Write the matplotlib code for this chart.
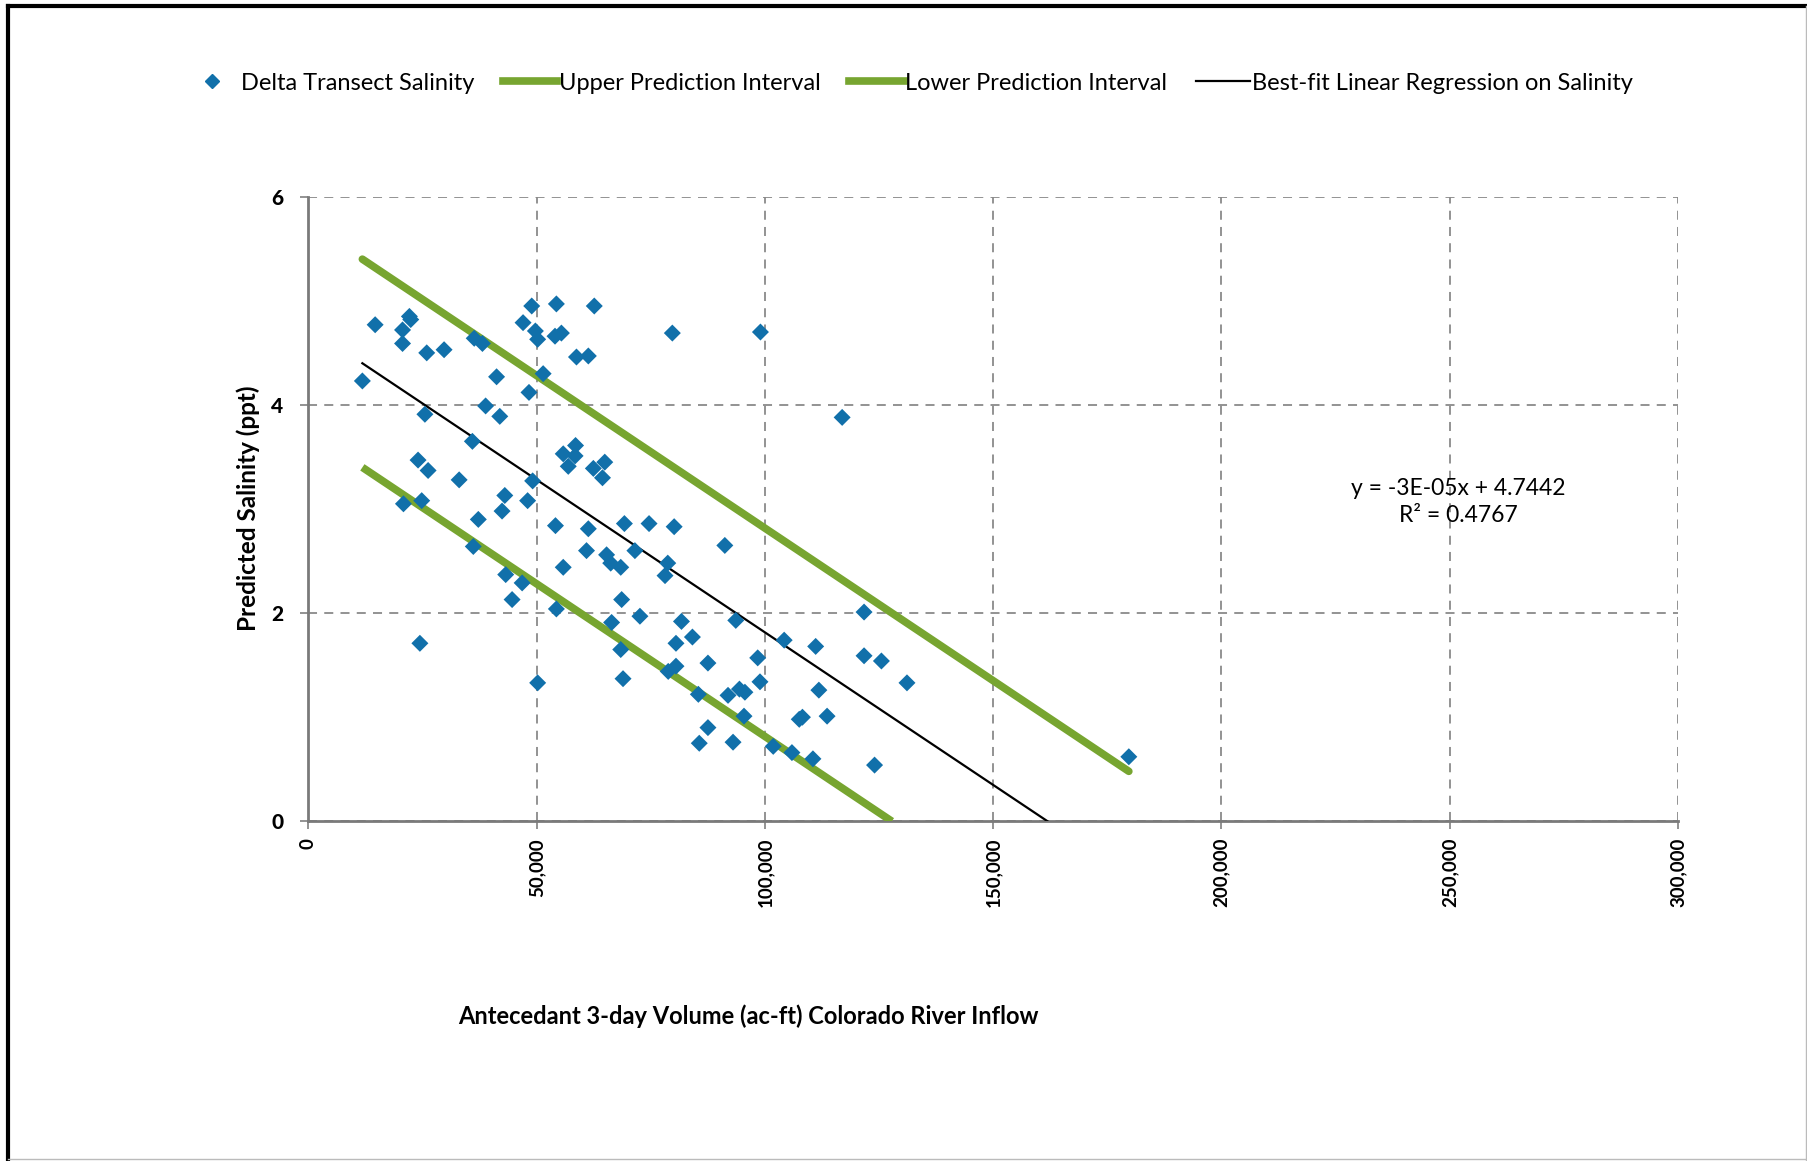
import matplotlib
matplotlib.use("Agg")
import matplotlib.pyplot as plt
from matplotlib.lines import Line2D

# ---------------- data ----------------
inflow_k = [14.6, 22.1, 22.4, 20.6, 20.6, 25.9, 29.7, 11.8, 36.3, 38.1,
            41.2, 38.8, 41.9, 48.3, 51.4, 48.9, 54.3, 62.6, 47.0, 49.7,
            50.2, 54.0, 55.4, 58.7, 61.3, 79.7, 25.5, 35.9, 24.0, 26.2,
            33.0, 49.1, 20.8, 24.8, 43.0, 48.0, 37.2, 42.4, 55.8, 58.5,
            58.4, 56.9, 62.4, 64.9, 64.4, 54.1, 61.3, 69.2, 74.6, 80.1,
            91.2, 36.1, 60.9, 99.0, 116.9, 65.3, 66.2, 68.4, 71.5, 78.7,
            78.1, 43.2, 46.8, 44.6, 55.8, 54.3, 68.6, 72.6, 66.4, 81.7,
            84.1, 80.5, 93.6, 68.4, 24.4, 87.5, 80.5, 78.8, 68.9, 50.2,
            85.4, 91.9, 94.4, 95.6, 87.5, 85.6, 93.0, 104.2, 111.1, 121.7,
            121.7, 125.5, 131.1, 98.4, 98.9, 95.4, 101.8, 105.9, 110.5, 107.5,
            108.2, 111.8, 113.6, 124.0, 179.7]
salinity = [4.77, 4.85, 4.82, 4.72, 4.59, 4.50, 4.53, 4.23, 4.64, 4.59,
            4.27, 3.99, 3.89, 4.12, 4.30, 4.95, 4.97, 4.95, 4.79, 4.71,
            4.63, 4.66, 4.69, 4.46, 4.47, 4.69, 3.91, 3.65, 3.47, 3.37,
            3.28, 3.27, 3.05, 3.08, 3.13, 3.08, 2.90, 2.98, 3.53, 3.61,
            3.51, 3.41, 3.39, 3.45, 3.30, 2.84, 2.81, 2.86, 2.86, 2.83,
            2.65, 2.64, 2.60, 4.70, 3.88, 2.56, 2.48, 2.44, 2.60, 2.48,
            2.36, 2.37, 2.29, 2.13, 2.44, 2.04, 2.13, 1.97, 1.91, 1.92,
            1.77, 1.71, 1.93, 1.65, 1.71, 1.52, 1.49, 1.44, 1.37, 1.33,
            1.22, 1.21, 1.27, 1.24, 0.90, 0.75, 0.76, 1.74, 1.68, 2.01,
            1.59, 1.54, 1.33, 1.57, 1.34, 1.01, 0.72, 0.66, 0.60, 0.98,
            1.00, 1.26, 1.01, 0.54, 0.62]
inflow = [v * 1000 for v in inflow_k]

upper_x = [11800, 179700]
upper_y = [5.40, 0.48]
lower_x = [11800, 127800]
lower_y = [3.40, 0.00]
fit_x = [11800, 161900]
fit_y = [4.40, 0.00]

x_ticks = [0, 50000, 100000, 150000, 200000, 250000, 300000]
x_tick_labels = ["0", "50,000", "100,000", "150,000", "200,000", "250,000", "300,000"]
y_ticks = [0, 2, 4, 6]

series_names = ["Delta Transect Salinity", "Upper Prediction Interval",
                "Lower Prediction Interval", "Best-fit Linear Regression on Salinity"]
equation_text = "y = -3E-05x + 4.7442\nR\u00b2 = 0.4767"
x_title = "Antecedant 3-day Volume (ac-ft) Colorado River Inflow"
y_title = "Predicted Salinity (ppt)"

# ---------------- styling ----------------
plt.rcParams['font.family'] = ['Lato', 'DejaVu Sans']
W, H = 1808, 1161
fig = plt.figure(figsize=(W / 100, H / 100), dpi=100)
fig.patch.set_facecolor("white")

ax = fig.add_axes([308.5 / W, 1 - 821.3 / H, (1678 - 308.5) / W, (821.3 - 196.7) / H])

blue = "#1170AA"
green = "#77A530"

ax.plot(upper_x, upper_y, color=green, lw=5.5, solid_capstyle="round", zorder=3)
ax.plot(lower_x, lower_y, color=green, lw=5.5, solid_capstyle="butt", zorder=3)
ax.plot(fit_x, fit_y, color="black", lw=1.6, zorder=4)
ax.scatter(inflow, salinity, marker="D", s=75, color=blue, edgecolors="none", zorder=5)

ax.set_xlim(0, 300000)
ax.set_ylim(0, 6)
ax.set_xticks(x_ticks)
ax.set_xticklabels(x_tick_labels, rotation=90, fontweight="bold", fontsize=13.5)
ax.set_yticks(y_ticks)
ax.set_yticklabels([str(v) for v in y_ticks], fontweight="black", fontsize=15)
ax.tick_params(axis="both", length=6, color="#808080", width=1.2)
ax.tick_params(axis="x", direction="out", pad=6)
ax.tick_params(axis="y", direction="out", pad=12)

ax.grid(True, color="#8a8a8a", linestyle=(0, (5, 4)), linewidth=1.3, zorder=0)
ax.set_axisbelow(True)
for s in ["top", "right"]:
    ax.spines[s].set_visible(False)
for s in ["left", "bottom"]:
    ax.spines[s].set_color("#7a7a7a")
    ax.spines[s].set_linewidth(2)
    ax.spines[s].set_zorder(2)

# axis titles
fig.text(748 / W, 1 - 1016 / H, x_title, ha="center", va="center",
         fontsize=17, fontweight="bold")
fig.text(248 / W, 1 - 508 / H, y_title, ha="center", va="center",
         fontsize=17.5, fontweight="bold", rotation=90)

# regression equation
ax.text(1458 / W, 1 - 502 / H, equation_text, transform=fig.transFigure,
        ha="center", va="center", fontsize=16.5, linespacing=1.4)

# legend
handles = [
    Line2D([], [], marker="D", color=blue, linestyle="none", markersize=7),
    Line2D([], [], color=green, lw=5.5),
    Line2D([], [], color=green, lw=5.5),
    Line2D([], [], color="black", lw=1.6),
]
fig.legend(handles, series_names, loc="center", bbox_to_anchor=(909 / W, 1 - 83 / H),
           ncol=4, frameon=False, fontsize=17, handlelength=2.3, handletextpad=0.08,
           columnspacing=1.2)

# outer chart border
fig.add_artist(Line2D([8 / W, 8 / W], [0, 1 - 6 / H], transform=fig.transFigure,
                      color="black", lw=3))
fig.add_artist(Line2D([8 / W, 1], [1 - 6 / H, 1 - 6 / H], transform=fig.transFigure,
                      color="black", lw=3))
fig.add_artist(Line2D([1806 / W, 1806 / W], [0, 1 - 6 / H], transform=fig.transFigure,
                      color="#bbbbbb", lw=1))
fig.add_artist(Line2D([8 / W, 1], [2 / H, 2 / H], transform=fig.transFigure,
                      color="#bbbbbb", lw=1))

fig.savefig("out.png", dpi=100, facecolor="white")
